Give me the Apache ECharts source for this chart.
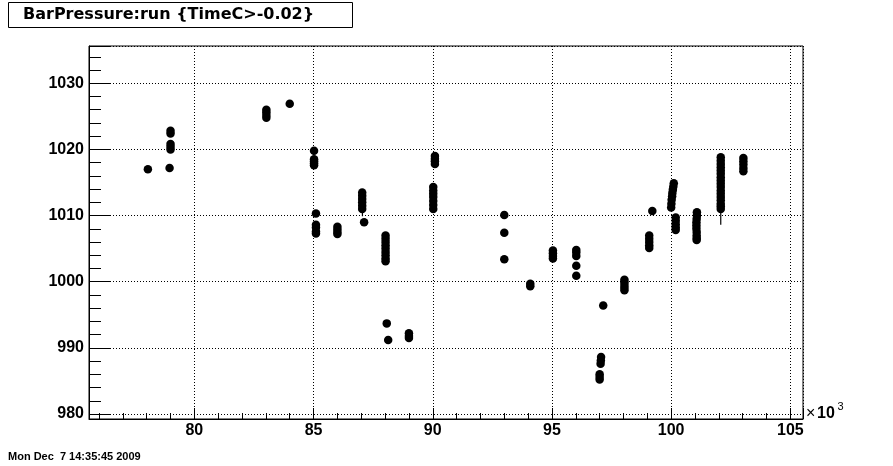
<!DOCTYPE html>
<html>
<head>
<meta charset="utf-8">
<script src="https://cdn.jsdelivr.net/npm/echarts@6/dist/echarts.min.js"></script>
<style>
html,body{margin:0;padding:0;background:#fff;}
#c{width:893px;height:466px;}
</style>
</head>
<body>
<div id="c"></div>
<script>
// run number (in units of 10^3)
const run = [
  78.05,
  78.96, 79.0, 79.0, 79.0, 79.0, 79.0,
  83.02, 83.02, 83.02, 83.02,
  84.0,
  85.02, 85.02, 85.02, 85.02, 85.02,
  85.1, 85.1, 85.1, 85.1, 85.1,
  86.0, 86.0, 86.0, 86.0,
  87.04, 87.04, 87.04, 87.04, 87.04, 87.04, 87.12,
  88.02, 88.02, 88.02, 88.02, 88.02, 88.02, 88.02, 88.02, 88.02,
  88.07, 88.13,
  89.0, 89.0, 89.0,
  90.02, 90.02, 90.02, 90.02, 90.02, 90.02, 90.02,
  90.09, 90.09, 90.09, 90.09,
  93.0, 93.0, 93.0,
  94.09, 94.09,
  95.04, 95.04, 95.04, 95.04,
  96.02, 96.02, 96.02, 96.02, 96.02,
  97.15, 97.06, 97.05, 97.04, 97.0, 97.0, 97.0,
  98.04, 98.04, 98.04, 98.04, 98.04,
  99.08, 99.08, 99.08, 99.08, 99.08, 99.21,
  100.11, 100.09, 100.07, 100.05, 100.04, 100.02, 100.01, 100.0,
  100.19, 100.19, 100.19, 100.19, 100.19,
  101.08, 101.08, 101.07, 101.06, 101.06, 101.06, 101.07, 101.07, 101.07, 101.07,
  102.08, 102.08, 102.08, 102.08, 102.08, 102.08, 102.08, 102.08,
  102.08, 102.08, 102.08, 102.08, 102.08, 102.08, 102.08, 102.08, 102.08,
  103.03, 103.03, 103.03, 103.03, 103.03
];
// barometric pressure
const pressure = [
  1017.0,
  1017.2, 1022.8, 1022.4, 1020.8, 1020.4, 1020.0,
  1026.0, 1025.6, 1025.2, 1024.8,
  1026.9,
  1019.8, 1018.5, 1018.2, 1017.9, 1017.6,
  1010.3, 1008.6, 1008.2, 1007.6, 1007.3,
  1008.3, 1007.9, 1007.5, 1007.2,
  1013.5, 1013.0, 1012.5, 1012.0, 1011.5, 1011.0, 1009.0,
  1007.0, 1006.5, 1006.0, 1005.5, 1005.0, 1004.5, 1004.0, 1003.5, 1003.1,
  993.7, 991.2,
  992.2, 991.8, 991.5,
  1014.3, 1013.8, 1013.3, 1012.8, 1012.2, 1011.6, 1011.0,
  1019.0, 1018.6, 1018.2, 1017.8,
  1010.1, 1007.4, 1003.4,
  999.7, 999.3,
  1004.7, 1004.3, 1003.9, 1003.5,
  1004.8, 1004.4, 1003.9, 1002.4, 1000.9,
  996.4, 988.6, 988.1, 987.6, 986.0, 985.6, 985.2,
  1000.3, 999.9, 999.5, 999.1, 998.7,
  1007.0, 1006.5, 1006.0, 1005.5, 1005.1, 1010.7,
  1014.9, 1014.4, 1013.9, 1013.4, 1012.9, 1012.4, 1011.8, 1011.2,
  1009.7, 1009.2, 1008.7, 1008.2, 1007.8,
  1010.5, 1010.0, 1009.5, 1009.0, 1008.5, 1008.0, 1007.5, 1007.0, 1006.6, 1006.3,
  1018.8, 1018.3, 1017.8, 1017.3, 1016.8, 1016.3, 1015.8, 1015.3,
  1014.8, 1014.3, 1013.8, 1013.3, 1012.8, 1012.3, 1011.8, 1011.4, 1011.0,
  1018.7, 1018.2, 1017.7, 1017.2, 1016.7
];
// thin vertical streaks below two of the dense clusters
const streakA = [[87.05, 1011.0], [87.05, 1009.9]];
const streakB = [[102.08, 1011.0], [102.08, 1008.6]];
const xRange = [75.58, 105.53];
const yRange = [979.245, 1035.63];
const titleText = 'BarPressure:run {TimeC>-0.02}';
const dateText = 'Mon Dec  7 14:35:45 2009';

const points = run.map((r, i) => [r, pressure[i]]);
const FONT = '"Liberation Sans", Arial, sans-serif';

const chart = echarts.init(document.getElementById('c'), null, {renderer: 'canvas'});
const axisLabelX = {
  show: true, color: '#000', fontFamily: FONT, fontWeight: 'bold', fontSize: 16, margin: 4,
  formatter: v => (Math.abs(v % 5) < 1e-6 ? String(Math.round(v)) : '')
};
const axisLabelY = {
  show: true, color: '#000', fontFamily: FONT, fontWeight: 'bold', fontSize: 16, margin: 5,
  formatter: v => (Math.abs(v % 10) < 1e-6 ? String(Math.round(v)) : '')
};
const streakSeries = s => ({
  type: 'line', data: s, symbol: 'none', silent: true,
  lineStyle: {color: '#000', width: 1.2}
});
chart.setOption({
  animation: false,
  backgroundColor: '#fff',
  grid: {left: 89, top: 46, width: 714, height: 373, show: true, borderColor: '#000', borderWidth: 1, backgroundColor: 'transparent'},
  xAxis: [
    {type: 'value', min: xRange[0], max: xRange[1], splitNumber: 6, position: 'bottom',
     axisLine: {show: true, onZero: false, lineStyle: {color: '#000', width: 1}},
     axisTick: {show: true, inside: true, length: 11, lineStyle: {color: '#000'}},
     axisLabel: axisLabelX,
     splitLine: {show: true, lineStyle: {color: '#000', width: 1, type: [1, 2]}}},
    {type: 'value', min: xRange[0], max: xRange[1], splitNumber: 30, position: 'bottom',
     axisLine: {show: false, onZero: false},
     axisTick: {show: true, inside: true, length: 6, lineStyle: {color: '#000'}},
     axisLabel: {show: false}, splitLine: {show: false}}
  ],
  yAxis: [
    {type: 'value', min: yRange[0], max: yRange[1], splitNumber: 6, position: 'left',
     axisLine: {show: true, onZero: false, lineStyle: {color: '#000', width: 1}},
     axisTick: {show: true, inside: true, length: 21, lineStyle: {color: '#000'}},
     axisLabel: axisLabelY,
     splitLine: {show: true, lineStyle: {color: '#000', width: 1, type: [1, 2]}}},
    {type: 'value', min: yRange[0], max: yRange[1], splitNumber: 28, position: 'left',
     axisLine: {show: false, onZero: false},
     axisTick: {show: true, inside: true, length: 12, lineStyle: {color: '#000'}},
     axisLabel: {show: false}, splitLine: {show: false}}
  ],
  series: [
    {type: 'scatter', xAxisIndex: 0, yAxisIndex: 0,
     data: points, symbol: 'circle', symbolSize: 8.5,
     itemStyle: {color: '#000', opacity: 1}},
    streakSeries(streakA),
    streakSeries(streakB)
  ],
  graphic: [
    {type: 'rect', shape: {x: 8.5, y: 2.5, width: 344, height: 25}, style: {fill: '#fff', stroke: '#000', lineWidth: 1}, z: 10},
    {type: 'text', x: 23, y: 15, style: {text: titleText, font: 'bold 16px "DejaVu Sans", sans-serif', fill: '#000', verticalAlign: 'middle'}, z: 11},
    {type: 'text', x: 806, y: 414, style: {text: '\u00d7', font: '16px ' + FONT, fill: '#000', verticalAlign: 'middle'}, z: 11},
    {type: 'text', x: 817, y: 414, style: {text: '10', font: 'bold 16px ' + FONT, fill: '#000', verticalAlign: 'middle'}, z: 11},
    {type: 'text', x: 837.5, y: 406.5, style: {text: '3', font: '11px ' + FONT, fill: '#000', verticalAlign: 'middle'}, z: 11},
    {type: 'text', x: 8, y: 456.5, style: {text: dateText, font: 'bold 11px ' + FONT, fill: '#000', verticalAlign: 'middle'}, z: 11}
  ]
});
</script>
</body>
</html>
